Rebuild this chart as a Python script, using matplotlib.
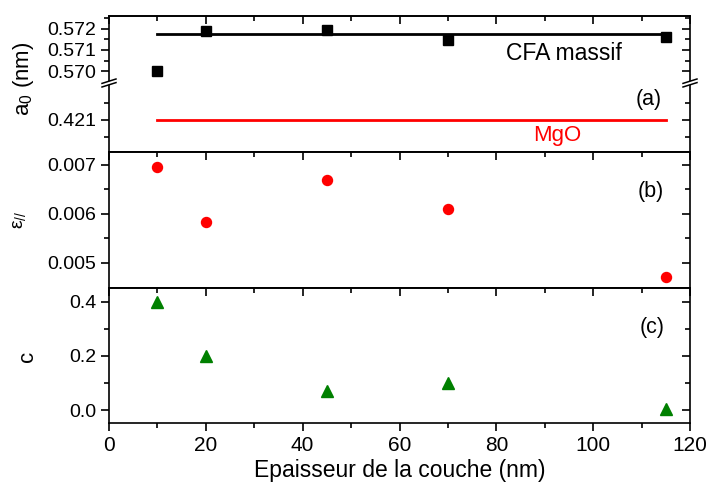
import numpy as np
import matplotlib
matplotlib.use('Agg')
import matplotlib.pyplot as plt
from matplotlib.ticker import MultipleLocator, FixedLocator
from matplotlib.lines import Line2D
from matplotlib.patches import Polygon

plt.rcParams['font.family'] = 'Liberation Sans'
plt.rcParams['mathtext.fontset'] = 'custom'
plt.rcParams['mathtext.rm'] = 'Liberation Sans'
plt.rcParams['mathtext.it'] = 'Liberation Sans:italic'
plt.rcParams['axes.linewidth'] = 1.2

# donnees
epaisseur = [10, 20, 45, 70, 115]
a0 = [0.57002, 0.57187, 0.57196, 0.57145, 0.57159]
a_cfa_massif = 0.57175
a_mgo = 0.421
eps_par = [0.00695, 0.00584, 0.00668, 0.00609, 0.00470]
c_val = [0.40, 0.20, 0.07, 0.10, 0.005]
x_ligne = [10, 115]

W, H = 707, 484
fig = plt.figure(figsize=(W / 100, H / 100), dpi=100)


def fx(px):
    return px / W


def fy(py):
    return 1 - py / H


gauche, droite = 109, 690


def add_ax(top_px, bot_px):
    return fig.add_axes([fx(gauche), fy(bot_px), fx(droite) - fx(gauche), (bot_px - top_px) / H])


ax_a_haut = add_ax(15.7, 83)
ax_a_bas = add_ax(83, 152)
ax_b = add_ax(152, 288)
ax_c = add_ax(288, 423.3)


def style(ax, ymaj, ymin, top=True, bottom=True, labels_x=False):
    ax.set_xlim(0, 120)
    ax.xaxis.set_major_locator(MultipleLocator(20))
    ax.xaxis.set_minor_locator(MultipleLocator(10))
    ax.yaxis.set_major_locator(FixedLocator(ymaj))
    ax.yaxis.set_minor_locator(FixedLocator(ymin))
    ax.tick_params(axis='both', which='both', direction='out', width=1.2,
                   right=False, top=False, bottom=bottom,
                   labelbottom=labels_x, pad=3)
    ax.tick_params(axis='y', labelsize=14)
    ax.tick_params(axis='x', labelsize=15)
    ax.tick_params(which='major', length=6)
    ax.tick_params(which='minor', length=3.5)
    ax.spines['right'].set_visible(False)
    sec_y = ax.secondary_yaxis('right')
    sec_y.yaxis.set_major_locator(FixedLocator(ymaj))
    sec_y.yaxis.set_minor_locator(FixedLocator(ymin))
    sec_y.tick_params(which='both', direction='in', width=1.2, labelright=False)
    sec_y.tick_params(which='major', length=6)
    sec_y.tick_params(which='minor', length=3.5)
    if top:
        sec_x = ax.secondary_xaxis('top')
        sec_x.xaxis.set_major_locator(MultipleLocator(20))
        sec_x.xaxis.set_minor_locator(MultipleLocator(10))
        sec_x.tick_params(which='both', direction='in', width=1.2, labeltop=False)
        sec_x.tick_params(which='major', length=6)
        sec_x.tick_params(which='minor', length=3.5)
    else:
        ax.spines['top'].set_visible(False)
    if not bottom:
        ax.spines['bottom'].set_visible(False)


# (a) partie haute : CFA
ax_a_haut.plot(epaisseur, a0, 's', color='black', markersize=6.5)
ax_a_haut.plot(x_ligne, [a_cfa_massif, a_cfa_massif], '-', color='black', linewidth=2)
ax_a_haut.set_ylim(0.56945, 0.57261)
style(ax_a_haut, [0.570, 0.571, 0.572], [0.5705, 0.5715, 0.5725], top=True, bottom=False)
ax_a_haut.yaxis.set_major_formatter(plt.FormatStrFormatter('%.3f'))
ax_a_haut.text(94.0, 0.57084, 'CFA massif', fontsize=16.5, ha='center', va='center')

# (a) partie basse : MgO
ax_a_bas.plot(x_ligne, [a_mgo, a_mgo], '-', color='red', linewidth=2)
ax_a_bas.set_ylim(0.42004, 0.42211)
style(ax_a_bas, [0.421], [0.4205, 0.4215], top=False, bottom=True)
ax_a_bas.yaxis.set_major_formatter(plt.FormatStrFormatter('%.3f'))
ax_a_bas.text(92.5, 0.42052, 'MgO', fontsize=16, color='red', ha='center', va='center')
ax_a_bas.text(111.5, 0.4216, '(a)', fontsize=15.5, ha='center', va='center')

# (b)
ax_b.plot(epaisseur, eps_par, 'o', color='red', markersize=7.2)
ax_b.set_ylim(0.004484, 0.007259)
style(ax_b, [0.005, 0.006, 0.007], [0.0055, 0.0065])
ax_b.yaxis.set_major_formatter(plt.FormatStrFormatter('%.3f'))
ax_b.text(111.9, 0.006443, '(b)', fontsize=15.5, ha='center', va='center')

# (c)
ax_c.plot(epaisseur, c_val, '^', color='#008000', markersize=8)
ax_c.set_ylim(-0.049, 0.4506)
style(ax_c, [0.0, 0.2, 0.4], [0.1, 0.3], labels_x=True)
ax_c.yaxis.set_major_formatter(plt.FormatStrFormatter('%.1f'))
ax_c.text(112.1, 0.3065, '(c)', fontsize=15.5, ha='center', va='center')
ax_c.set_xlabel('Epaisseur de la couche (nm)', fontsize=16.5, labelpad=3)

# titres des axes y
fig.text(fx(24), fy(79), r'a$_0$ (nm)', rotation=90, fontsize=16, ha='center', va='center')
fig.text(fx(19), fy(220), r'ε$_{//}$', rotation=90, fontsize=14, ha='center', va='center')
fig.text(fx(27), fy(356), 'c', rotation=90, fontsize=16, ha='center', va='center')

# coupures de l'axe
for xc in (gauche, droite):
    yc = 83
    d = 7
    pente = 2.2
    ecart = 1.8
    pts = [(xc - d, yc + pente + ecart), (xc + d, yc - pente + ecart),
           (xc + d, yc - pente - ecart), (xc - d, yc + pente - ecart)]
    fig.patches.append(Polygon([(fx(p), fy(q)) for p, q in pts], closed=True,
                               transform=fig.transFigure, facecolor='white',
                               edgecolor='none', zorder=5))
    for s in (ecart, -ecart):
        fig.lines.append(Line2D([fx(xc - d), fx(xc + d)],
                                [fy(yc + pente + s), fy(yc - pente + s)],
                                transform=fig.transFigure, color='black',
                                linewidth=1.1, zorder=6))

fig.savefig('out.png', dpi=100)
